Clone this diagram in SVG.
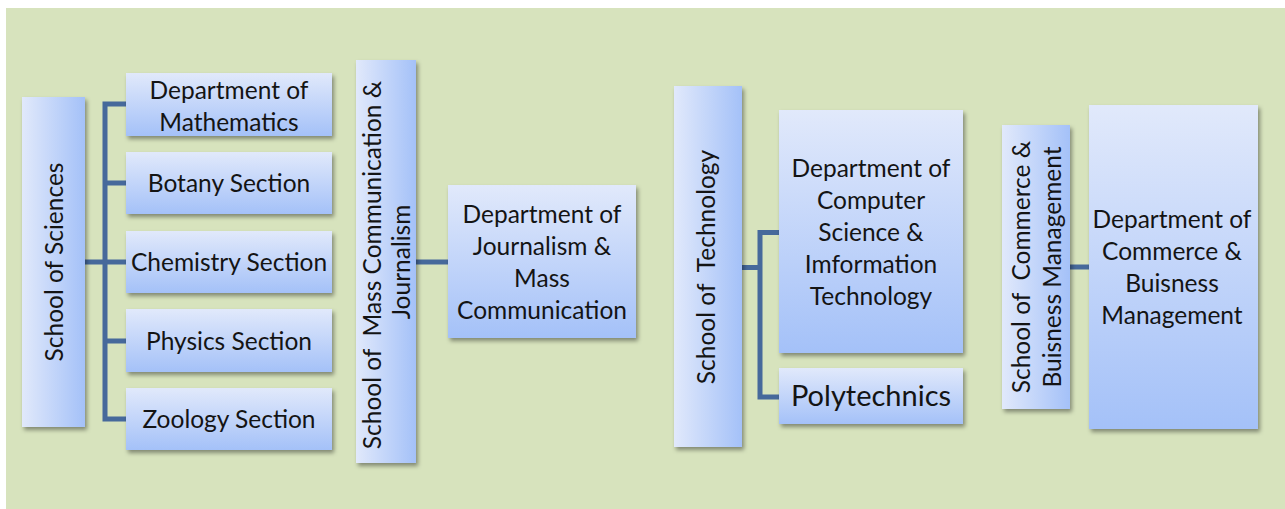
<svg xmlns="http://www.w3.org/2000/svg" width="1285" height="509" viewBox="0 0 1285 509">
<defs>
  <linearGradient id="gv" x1="0" y1="0" x2="0" y2="1">
    <stop offset="0" stop-color="#e1e9fb"/>
    <stop offset="1" stop-color="#a4c1f8"/>
  </linearGradient>
  <linearGradient id="gh" x1="0" y1="0" x2="1" y2="0">
    <stop offset="0" stop-color="#e1e9fb"/>
    <stop offset="1" stop-color="#a4c1f8"/>
  </linearGradient>
  <filter id="sh" x="-20%" y="-20%" width="140%" height="140%">
    <feDropShadow dx="2" dy="3" stdDeviation="2" flood-color="#000" flood-opacity="0.4"/>
  </filter>
</defs>
<style>
  .box { fill: url(#gv); filter: url(#sh); }
  .vbox { fill: url(#gh); filter: url(#sh); }
  text { font-family: Lato, "Liberation Sans", sans-serif; font-size: 24.5px; fill: #141414; text-anchor: middle; white-space: pre; }
  .big { font-size: 29px; }
  .con { fill: none; stroke: #46699b; stroke-width: 5; stroke-linejoin: miter; stroke-linecap: butt; }
</style>
<rect x="6" y="8" width="1279" height="501" fill="#d7e3bd"/>

<g id="connectors">
  <path class="con" d="M85 262 H105 M126 104 H105 V419 H126 M105 183 H126 M105 262 H126 M105 341 H126"/>
  <path class="con" d="M416 262 H448"/>
  <path class="con" d="M742 267.5 H760 M779 232.5 H760 V397 H779"/>
  <path class="con" d="M1070 267 H1089"/>
</g>

<g id="school-sciences">
  <rect class="vbox" x="22" y="97" width="63" height="330"/>
  <text xml:space="preserve" transform="translate(63 262) rotate(-90)">School of Sciences</text>
</g>
<g id="dept-math">
  <rect class="box" x="126" y="73" width="206" height="63"/>
  <text x="229" y="99">Department of</text>
  <text x="229" y="131">Mathematics</text>
</g>
<g id="botany">
  <rect class="box" x="126" y="152" width="206" height="62"/>
  <text x="229" y="192">Botany Section</text>
</g>
<g id="chemistry">
  <rect class="box" x="126" y="231" width="206" height="62"/>
  <text x="229" y="271">Chemistry Section</text>
</g>
<g id="physics">
  <rect class="box" x="126" y="309" width="206" height="63"/>
  <text x="229" y="350">Physics Section</text>
</g>
<g id="zoology">
  <rect class="box" x="126" y="388" width="206" height="62"/>
  <text x="229" y="428">Zoology Section</text>
</g>

<g id="school-masscomm">
  <rect class="vbox" x="356" y="60" width="60" height="403"/>
  <text xml:space="preserve" transform="translate(381 265) rotate(-90)">School of  Mass Communication &amp;</text>
  <text transform="translate(410 262) rotate(-90)">Journalism</text>
</g>
<g id="dept-journalism">
  <rect class="box" x="448" y="185" width="188" height="153"/>
  <text x="542" y="223">Department of</text>
  <text x="542" y="255">Journalism &amp;</text>
  <text x="542" y="287">Mass</text>
  <text x="542" y="319">Communication</text>
</g>

<g id="school-technology">
  <rect class="vbox" x="674" y="86" width="68" height="361"/>
  <text xml:space="preserve" transform="translate(715 267) rotate(-90)">School of  Technology</text>
</g>
<g id="dept-cs">
  <rect class="box" x="779" y="110" width="184" height="243"/>
  <text x="871" y="177">Department of</text>
  <text x="871" y="209">Computer</text>
  <text x="871" y="241">Science &amp;</text>
  <text x="871" y="273">Imformation</text>
  <text x="871" y="305">Technology</text>
</g>
<g id="polytechnics">
  <rect class="box" x="779" y="368" width="184" height="56"/>
  <text class="big" x="871" y="406">Polytechnics</text>
</g>

<g id="school-commerce">
  <rect class="vbox" x="1002" y="125" width="68" height="284"/>
  <text xml:space="preserve" transform="translate(1030 267) rotate(-90)">School of  Commerce &amp;</text>
  <text transform="translate(1061 267) rotate(-90)">Buisness Management</text>
</g>
<g id="dept-commerce">
  <rect class="box" x="1089" y="105" width="169" height="324"/>
  <text x="1172" y="228">Department of</text>
  <text x="1172" y="260">Commerce &amp;</text>
  <text x="1172" y="292">Buisness</text>
  <text x="1172" y="324">Management</text>
</g>
</svg>
